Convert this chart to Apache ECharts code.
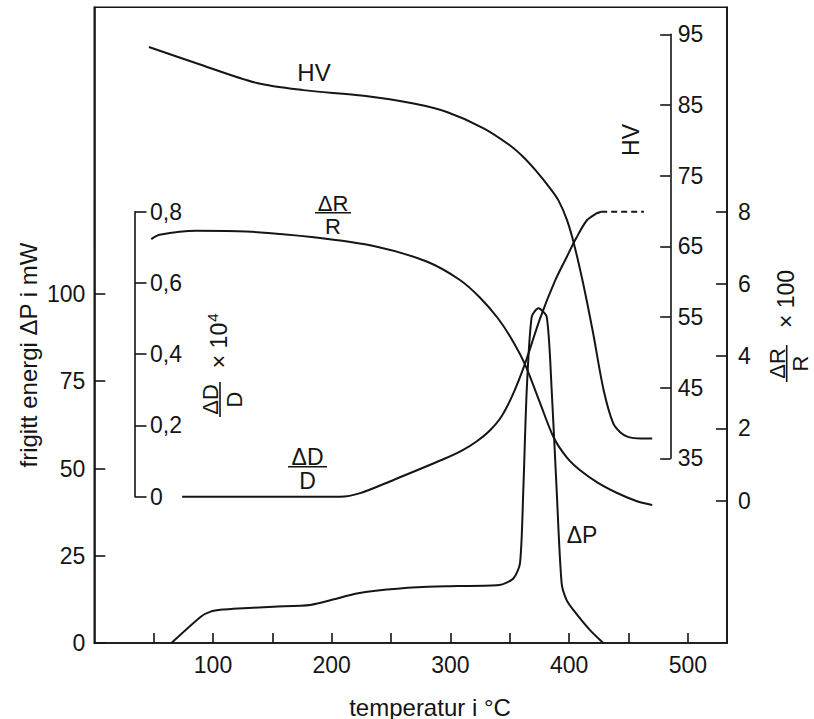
<!DOCTYPE html>
<html>
<head>
<meta charset="utf-8">
<script src="https://cdn.jsdelivr.net/npm/echarts@6/dist/echarts.min.js"></script>
<style>
html,body{margin:0;padding:0;background:#fff;}
#c{width:814px;height:719px;}
</style>
</head>
<body>
<div id="c"></div>
<script>
// ---------- data ----------
// x: temperature in °C
const xTicks = [50, 100, 150, 200, 250, 300, 350, 400, 450, 500];
const xTickLabels = [100, 200, 300, 400, 500];
const dpTickLabels = [0, 25, 50, 75, 100];
const hvTickLabels = [35, 45, 55, 65, 75, 85, 95];
const drTickLabels = [0, 2, 4, 6, 8];
const ddTickLabels = [0, 0.2, 0.4, 0.6, 0.8];

// ΔP, released energy in mW (left axis)
const dpTemp = [65, 90, 98, 108, 117, 151, 182, 203, 220, 237, 272, 306, 341, 353, 358.6, 361.4, 364.3, 368.5, 374.1, 381.1, 385.3, 389.5, 393.7, 397.9, 403.5, 417.6, 428.8];
const dpVal  = [0, 7.6, 9.0, 9.6, 9.8, 10.4, 10.9, 12.6, 14.1, 15.0, 16.0, 16.3, 16.6, 18.5, 22.8, 43.8, 72.5, 93.5, 95.9, 93.5, 72.5, 43.8, 17.1, 12.3, 9.5, 3.7, 0];

// HV hardness (inner right axis 35..95)
const hvTemp = [46, 86, 137, 176, 227, 269, 297, 328, 350, 361, 372, 384, 391, 398, 404, 412, 420, 429, 437, 443, 450, 460, 470];
const hvVal  = [93.2, 90.9, 88.1, 87.1, 86.3, 85.2, 84.0, 81.7, 79.3, 77.7, 75.7, 73.2, 71.5, 68.8, 65.4, 59.6, 52.9, 44.7, 40.0, 38.7, 38.0, 37.8, 37.8];

// ΔR/R x 100 (outer right axis 0..8)
const drTemp = [48, 55, 86, 128, 185, 238, 280, 308, 325, 340, 352, 363, 375, 387, 398, 409, 424, 440, 456, 470];
const drVal  = [7.24, 7.36, 7.47, 7.45, 7.29, 7.03, 6.62, 6.11, 5.62, 5.05, 4.45, 3.76, 2.75, 1.75, 1.2, 0.85, 0.50, 0.22, 0.0, -0.12];

// ΔD/D x 10^4 (inner left axis 0..0.8)
const ddTemp = [74, 207, 224, 252, 294, 310, 322, 333, 343, 353, 363, 375.5, 388, 398, 406, 415, 423, 427];
const ddVal  = [0, 0, 0.01, 0.047, 0.105, 0.13, 0.155, 0.185, 0.225, 0.29, 0.375, 0.50, 0.605, 0.673, 0.726, 0.776, 0.795, 0.80];
const ddDashTemp = [427, 463];
const ddDashVal  = [0.80, 0.80];

// ---------- layout ----------
const FONT = "'Liberation Sans', Arial, Helvetica, sans-serif";
const INK = '#151515';
const X_MIN = 0, X_MAX = 533;
const L = 94.3, R = 727, T = 7.3, B = 643;           // main frame
const pxPerX = (R - L) / (X_MAX - X_MIN);
const HV_RIGHT = 670.7, HV_TOP = 34.3, HV_BOTTOM = 458.3;  // HV axis line
const DD_LEFT = 135, DD_TOP = 211.7, DD_BOTTOM = 496.7;     // ΔD/D axis line
const DP_PX = (B - 294) / 100;                        // px per mW
const DR_ZERO = 500.7, DR_EIGHT = 211.7;
const DR_PX = (DR_ZERO - DR_EIGHT) / 8;

const pairs = (xs, ys) => xs.map((x, i) => [x, ys[i]]);

const lab = (extra) => Object.assign({color: INK, fontSize: 23, fontFamily: FONT}, extra);
const tick = (vals, len) => ({show: true, inside: true, length: len, customValues: vals,
  lineStyle: {color: INK, width: 1.6}});
const line = (show) => ({show: show, onZero: false, lineStyle: {color: INK, width: 1.6}});

const hiddenX = (gi, min, max) => ({gridIndex: gi, type: 'value', min: min, max: max, show: false,
  axisLine: {show: false, onZero: false}, splitLine: {show: false}});

const lineSeries = (data, xi, yi, extra) => Object.assign({
  type: 'line', data: data, xAxisIndex: xi, yAxisIndex: yi,
  symbol: 'none', showSymbol: false, smooth: 0.3, clip: false, silent: true,
  lineStyle: {color: INK, width: 2}
}, extra || {});

function frac(num, den, cx, cy, w, rot, fs) {
  return {
    type: 'group', x: cx, y: cy, rotation: rot || 0, silent: true,
    children: [
      {type: 'text', x: 0, y: 1.5, style: {text: num, fill: INK, fontSize: fs, fontFamily: FONT, align: 'center', verticalAlign: 'bottom'}},
      {type: 'line', shape: {x1: -w / 2, y1: 0, x2: w / 2, y2: 0}, style: {stroke: INK, lineWidth: 1.6}},
      {type: 'text', x: 0, y: 3, style: {text: den, fill: INK, fontSize: fs, fontFamily: FONT, align: 'center', verticalAlign: 'top'}}
    ]
  };
}
const txt = (s, x, y, fs, rot) => ({type: 'text', x: x, y: y, rotation: rot || 0, silent: true,
  style: {text: s, fill: INK, fontSize: fs, fontFamily: FONT, align: 'center', verticalAlign: 'middle'}});

const chart = echarts.init(document.getElementById('c'), null, {renderer: 'svg'});

const option = {
  animation: false,
  backgroundColor: '#ffffff',
  grid: [
    {left: L, top: T, width: R - L, height: B - T, show: true, borderColor: INK, borderWidth: 1.6,
     backgroundColor: 'transparent', containLabel: false, outerBoundsMode: 'none'},
    {left: L, top: HV_TOP, width: HV_RIGHT - L, height: HV_BOTTOM - HV_TOP, show: false,
     containLabel: false, outerBoundsMode: 'none'},
    {left: DD_LEFT, top: DD_TOP, width: R - DD_LEFT, height: DD_BOTTOM - DD_TOP, show: false,
     containLabel: false, outerBoundsMode: 'none'}
  ],
  xAxis: [
    {gridIndex: 0, type: 'value', min: X_MIN, max: X_MAX, position: 'bottom',
     axisLine: line(true), axisTick: tick(xTicks, 10),
     axisLabel: lab({customValues: xTickLabels, margin: 10}),
     splitLine: {show: false}},
    hiddenX(1, X_MIN, X_MIN + (HV_RIGHT - L) / pxPerX),
    hiddenX(2, X_MIN + (DD_LEFT - L) / pxPerX, X_MAX)
  ],
  yAxis: [
    // ΔP (mW)
    {gridIndex: 0, type: 'value', position: 'left', min: 0, max: (B - T) / DP_PX,
     axisLine: line(true), axisTick: tick(dpTickLabels, 11),
     axisLabel: lab({customValues: dpTickLabels, margin: 9}),
     splitLine: {show: false}},
    // ΔR/R x 100
    {gridIndex: 0, type: 'value', position: 'right',
     min: -(B - DR_ZERO) / DR_PX, max: 8 + (DR_EIGHT - T) / DR_PX,
     axisLine: line(true), axisTick: tick(drTickLabels, 11),
     axisLabel: lab({customValues: drTickLabels, margin: 11}),
     splitLine: {show: false}},
    // HV
    {gridIndex: 1, type: 'value', position: 'right', min: 35, max: 95,
     axisLine: line(true), axisTick: tick(hvTickLabels, 10.5),
     axisLabel: lab({customValues: hvTickLabels, margin: 7}),
     splitLine: {show: false}},
    // ΔD/D x 10^4
    {gridIndex: 2, type: 'value', position: 'left', min: 0, max: 0.8,
     axisLine: line(true), axisTick: tick(ddTickLabels, 11.5),
     axisLabel: lab({customValues: ddTickLabels, inside: true, margin: 15,
       formatter: v => (Math.abs(v) < 1e-9 ? '0' : (+v).toFixed(1).replace('.', ','))}),
     splitLine: {show: false}}
  ],
  series: [
    lineSeries(pairs(dpTemp, dpVal), 0, 0, {name: 'ΔP', smooth: 0.25}),
    lineSeries(pairs(drTemp, drVal), 0, 1, {name: 'ΔR/R'}),
    lineSeries(pairs(hvTemp, hvVal), 1, 2, {name: 'HV'}),
    lineSeries(pairs(ddTemp, ddVal), 2, 3, {name: 'ΔD/D'}),
    lineSeries(pairs(ddDashTemp, ddDashVal), 2, 3, {name: 'ΔD/D (extrapolert)', smooth: false,
      lineStyle: {color: INK, width: 2, type: [6, 4]}})
  ],
  graphic: [
    // axis titles
    txt('frigitt energi ΔP i mW', 28, 355, 24, Math.PI / 2),
    txt('temperatur i °C', 430, 707, 24),
    {type: 'group', x: 786.7, y: 363.5, rotation: Math.PI / 2, silent: true, children: [
      frac('ΔR', 'R', 0, 0, 37, 0, 22),
      txt('× 100', 64.5, -1, 23)
    ]},
    {type: 'group', x: 220, y: 399.5, rotation: Math.PI / 2, silent: true, children: [
      frac('ΔD', 'D', 0, 0, 35, 0, 22),
      txt('× 10', 54, -1, 23),
      txt('4', 82, -8, 15)
    ]},
    txt('HV', 631, 140, 23, Math.PI / 2),
    // curve labels
    txt('HV', 314, 72, 24),
    frac('ΔR', 'R', 333, 212.7, 36, 0, 22),
    frac('ΔD', 'D', 307.5, 466.7, 39, 0, 23),
    txt('ΔP', 582, 535, 23)
  ]
};
chart.setOption(option);
</script>
</body>
</html>
